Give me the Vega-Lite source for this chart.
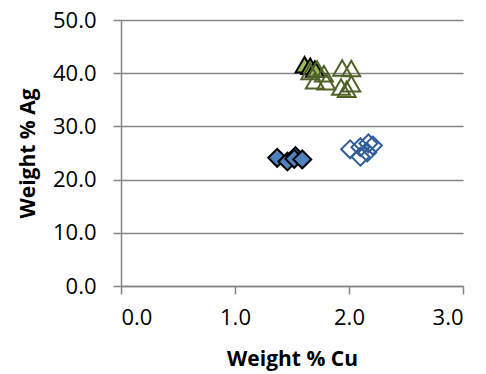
{
  "$schema": "https://vega.github.io/schema/vega-lite/v6.json",
  "width": 342,
  "height": 266,
  "autosize": {"type": "none"},
  "padding": {"left": 121, "top": 20, "right": 23, "bottom": 88},
  "background": "white",
  "view": {"stroke": "transparent", "strokeWidth": 0},
  "data": {
    "values": [
      {"series": "A", "cu": 1.37, "ag": 24.1},
      {"series": "A", "cu": 1.46, "ag": 23.4},
      {"series": "A", "cu": 1.53, "ag": 24.4},
      {"series": "A", "cu": 1.52, "ag": 23.9},
      {"series": "A", "cu": 1.59, "ag": 23.8},
      {"series": "B", "cu": 2.01, "ag": 25.7},
      {"series": "B", "cu": 2.10, "ag": 24.3},
      {"series": "B", "cu": 2.10, "ag": 26.1},
      {"series": "B", "cu": 2.17, "ag": 26.8},
      {"series": "B", "cu": 2.21, "ag": 26.4},
      {"series": "B", "cu": 2.16, "ag": 25.1},
      {"series": "C", "cu": 1.61, "ag": 41.6},
      {"series": "C", "cu": 1.66, "ag": 41.3},
      {"series": "C", "cu": 1.70, "ag": 40.8},
      {"series": "D", "cu": 1.72, "ag": 40.8},
      {"series": "D", "cu": 1.78, "ag": 39.9},
      {"series": "D", "cu": 1.94, "ag": 41.0},
      {"series": "D", "cu": 2.02, "ag": 40.9},
      {"series": "D", "cu": 1.66, "ag": 40.3},
      {"series": "D", "cu": 1.70, "ag": 38.6},
      {"series": "D", "cu": 1.80, "ag": 38.4},
      {"series": "D", "cu": 1.93, "ag": 37.4},
      {"series": "D", "cu": 1.98, "ag": 37.0},
      {"series": "D", "cu": 2.02, "ag": 38.0}
    ]
  },
  "mark": {"type": "point", "filled": true, "opacity": 1, "strokeWidth": 2},
  "encoding": {
    "x": {
      "field": "cu", "type": "quantitative",
      "scale": {"domain": [0, 3], "nice": false, "zero": true},
      "title": "Weight % Cu",
      "axis": {
        "values": [0, 1, 2, 3], "format": ".1f", "grid": false,
        "domainColor": "#868686", "domainWidth": 1.5,
        "tickColor": "#868686", "tickWidth": 1.5, "tickSize": 8,
        "labelFont": "Open Sans", "labelFontSize": 22, "labelColor": "#000000", "labelPadding": 13,
        "titleFont": "Open Sans", "titleFontSize": 21, "titleFontWeight": "bold", "titleColor": "#000000", "titlePadding": 20
      }
    },
    "y": {
      "field": "ag", "type": "quantitative",
      "scale": {"domain": [0, 50], "nice": false},
      "title": "Weight % Ag",
      "axis": {
        "values": [0, 10, 20, 30, 40, 50], "format": ".1f", "grid": true,
        "gridColor": "#868686", "gridWidth": 1.5,
        "domainColor": "#868686", "domainWidth": 1.5,
        "tickColor": "#868686", "tickWidth": 1.5, "tickSize": 8,
        "labelFont": "Open Sans", "labelFontSize": 22, "labelColor": "#000000", "labelPadding": 17,
        "titleFont": "Open Sans", "titleFontSize": 21, "titleFontWeight": "bold", "titleColor": "#000000", "titlePadding": 14
      }
    },
    "shape": {
      "field": "series", "type": "nominal",
      "scale": {"domain": ["A", "B", "C", "D"], "range": ["diamond", "diamond", "triangle-up", "triangle-up"]},
      "legend": null
    },
    "fill": {
      "field": "series", "type": "nominal",
      "scale": {"domain": ["A", "B", "C", "D"], "range": ["#4F81BD", "transparent", "#9BBB59", "transparent"]},
      "legend": null
    },
    "stroke": {
      "field": "series", "type": "nominal",
      "scale": {"domain": ["A", "B", "C", "D"], "range": ["#000000", "#2F5E99", "#000000", "#4F6228"]},
      "legend": null
    },
    "size": {
      "field": "series", "type": "ordinal",
      "scale": {"domain": ["A", "B", "C", "D"], "range": [320, 320, 380, 380]},
      "legend": null
    }
  },
  "config": {"view": {"stroke": null, "strokeWidth": 0}}
}
